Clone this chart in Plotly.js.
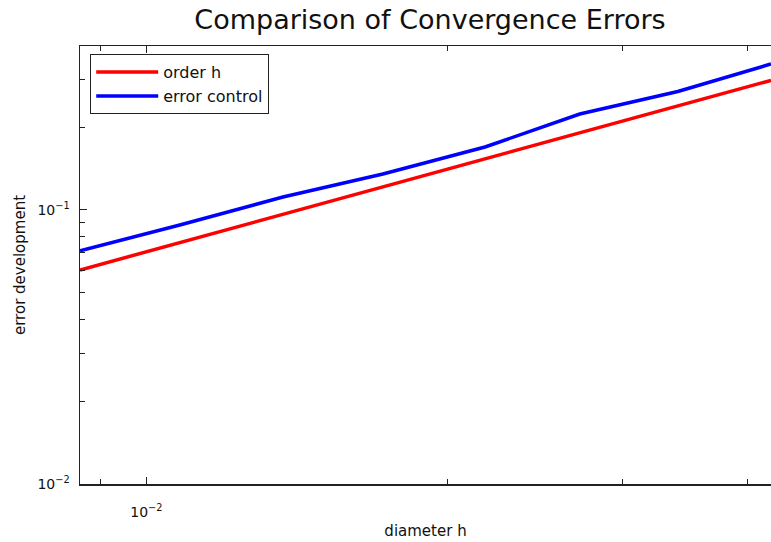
<!DOCTYPE html>
<html>
<head>
<meta charset="utf-8">
<script src="https://cdn.plot.ly/plotly-3.0.1.min.js"></script>
<style>html,body{margin:0;padding:0;background:#fff;overflow:hidden;}#chart{width:771px;height:542px;}</style>
</head>
<body>
<div id="chart"></div>
<script>
// Mesh diameters h
var diameterH = [0.00858, 0.01080, 0.01370, 0.01725, 0.02183, 0.02716, 0.03405, 0.04221];
// Reference line of order h
var orderH = [0.0604, 0.0760, 0.0964, 0.1214, 0.1537, 0.1912, 0.2397, 0.2972];
// Error control estimates
var errorControl = [0.0709, 0.0882, 0.1115, 0.1353, 0.1698, 0.2240, 0.2707, 0.3410];

var seriesNames = ["order h", "error control"];
var xMajorTicks = [0.01];
var xMajorText = ["10<sup>\u22122</sup>"];
var xMinorTicks = [0.009, 0.02, 0.03, 0.04];
var yMajorTicks = [0.01, 0.1];
var yMajorText = ["10<sup>\u22122</sup>", "10<sup>\u22121</sup>"];
var yMinorTicks = [0.02, 0.03, 0.04, 0.05, 0.06, 0.07, 0.08, 0.09, 0.2, 0.3, 0.4];

var font = "DejaVu Sans, Liberation Sans, Arial, sans-serif";

var traces = [
  {x: diameterH, y: orderH, name: seriesNames[0], mode: "lines", type: "scatter",
   line: {color: "#ff0000", width: 3.5}},
  {x: diameterH, y: errorControl, name: seriesNames[1], mode: "lines", type: "scatter",
   line: {color: "#0000ff", width: 3.5}}
];

var axisCommon = {
  type: "log",
  showgrid: false,
  zeroline: false,
  showline: true,
  linecolor: "#222",
  linewidth: 1.5,
  ticks: "inside",
  ticklen: 7,
  tickwidth: 1,
  tickcolor: "#222",
  tickmode: "array",
  tickfont: {family: font, size: 14, color: "#111"}
};

var W = 771;
var layout = {
  width: W, height: 542,
  margin: {l: 80, r: 0, t: 46, b: 58},
  paper_bgcolor: "#fff",
  plot_bgcolor: "#fff",
  title: {text: "Comparison of Convergence Errors", font: {family: font, size: 27, color: "#111"},
          xref: "container", x: 430/W, xanchor: "center", yref: "container", y: 1 - 20/542, yanchor: "middle"},
  xaxis: Object.assign({}, axisCommon, {
    range: [Math.log10(0.00858), Math.log10(0.04221)],
    mirror: "ticks",
    tickvals: xMajorTicks, ticktext: xMajorText,
    ticklabelstandoff: 15,
    minor: {tickmode: "array", tickvals: xMinorTicks, ticks: "inside", ticklen: 5, tickcolor: "#222"},
    title: {text: "diameter h", font: {family: font, size: 15, color: "#111"}, standoff: 6}
  }),
  yaxis: Object.assign({}, axisCommon, {
    range: [-2, -0.4015],
    mirror: false,
    tickvals: yMajorTicks, ticktext: yMajorText,
    ticklabelstandoff: 6,
    minor: {tickmode: "array", tickvals: yMinorTicks, ticks: "inside", ticklen: 5, tickcolor: "#222"},
    title: {text: "error development", font: {family: font, size: 15, color: "#111"}, standoff: 8}
  }),
  showlegend: true,
  legend: {
    x: 10/(W - 80), y: 1 - 8/438, xanchor: "left", yanchor: "top",
    bgcolor: "#fff", bordercolor: "#222", borderwidth: 1.2,
    font: {family: font, size: 16, color: "#111"},
    itemwidth: 62, tracegroupgap: 0
  }
};

Plotly.newPlot("chart", traces, layout, {displayModeBar: false, staticPlot: true});
</script>
</body>
</html>
